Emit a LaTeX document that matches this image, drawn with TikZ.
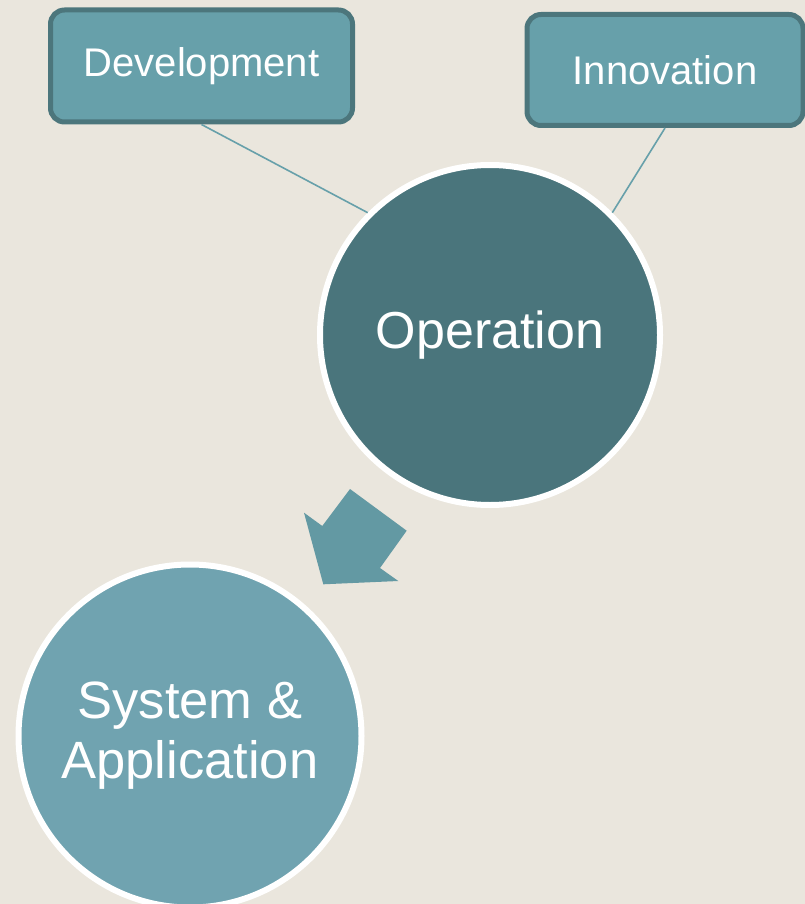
\documentclass[tikz,border=0pt]{standalone}
\usepackage{fontspec}
\setmainfont{Liberation Sans}
\definecolor{bg}{HTML}{EAE6DD}
\definecolor{dark}{HTML}{4A757C}
\definecolor{mid}{HTML}{67A0AA}
\definecolor{light}{HTML}{70A3B0}
\definecolor{arrowc}{HTML}{6399A3}
\definecolor{boxborder}{HTML}{4C767C}
\tikzset{
  box/.style={draw=boxborder, line width=5pt, fill=mid, rounded corners=14pt, text=white, inner sep=0pt},
  bigcirc/.style={circle, draw=white, line width=6pt, text=white, inner sep=0pt, align=center},
  link/.style={draw=mid, line width=1.6pt}
}
\begin{document}
\begin{tikzpicture}[x=1pt,y=-1pt]
\fill[bg] (0,0) rectangle (805,904);
\useasboundingbox (0,0) rectangle (805,904);
\node[box, minimum width=302pt, minimum height=112pt, font=\fontsize{40}{44}\selectfont] (dev) at (201.5,66) {Development};
\node[box, minimum width=276pt, minimum height=111pt, font=\fontsize{40}{44}\selectfont] (inn) at (665,70) {Innovation};
\node[bigcirc, fill=dark, minimum size=340pt, font=\fontsize{52}{56}\selectfont] (op) at (490,335) {Operation};
\node[bigcirc, fill=light, minimum size=343pt, font=\fontsize{52.5}{60}\selectfont] (sys) at (190,736) {System \&\\Application};
\draw[link] (dev.south) -- (op.135);
\draw[link] (inn.south) -- (op.45);
\fill[arrowc] (350,489) -- (406.7,530.7) -- (380,568) -- (398.3,581) -- (323.3,584.3) -- (304,512.7) -- (322.3,526) -- cycle;
\end{tikzpicture}
\end{document}
